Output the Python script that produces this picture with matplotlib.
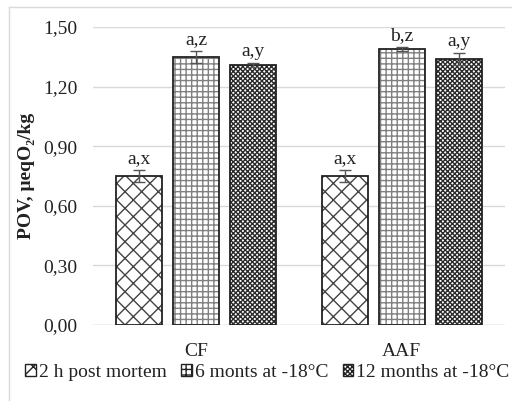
import numpy as np
import matplotlib
matplotlib.use("Agg")
import matplotlib.pyplot as plt
from matplotlib.patches import Patch
from matplotlib.lines import Line2D

plt.rcParams['font.family'] = ['Liberation Serif', 'DejaVu Serif']
plt.rcParams['hatch.linewidth'] = 1.0

# -----------------------------
# Data
# -----------------------------
groups = ["CF", "AAF"]
series = ["2 h post mortem", "6 monts at -18°C", "12 months at -18°C"]
values = [[0.75, 0.75], [1.35, 1.39], [1.31, 1.34]]
errors = [[0.03, 0.03], [0.03, 0.01], [0.01, 0.03]]
letters = [["a,x", "a,x"], ["a,z", "b,z"], ["a,y", "a,y"]]
yticks = [0.0, 0.3, 0.6, 0.9, 1.2, 1.5]

hatches = ["xx", "+++", "xxxxxxx"]
hatch_colors = ["#444444", "#808080", "#2a2a2a"]

# -----------------------------
# Figure
# -----------------------------
fig = plt.figure(figsize=(5.12, 4.01), dpi=100)
ax = fig.add_axes([0.1816, 0.1895, 0.8044, 0.7432])

x = np.arange(len(groups))
width = 0.223
step = 0.277

for i, name in enumerate(series):
    pos = x + (i - 1) * step
    bars = ax.bar(pos, values[i], width, color="white", edgecolor="#222222",
                  linewidth=1.3, zorder=3)
    for b in bars:
        b.set_hatch(hatches[i])
        b._hatch_color = matplotlib.colors.to_rgba(hatch_colors[i])
    ax.errorbar(pos, values[i], yerr=errors[i], fmt="none", ecolor="#555555",
                elinewidth=1.0, capsize=4, capthick=1.0, zorder=4)
    for p, v, e, t in zip(pos, values[i], errors[i], letters[i]):
        ax.text(p, v + e + 0.015, t, ha="center", va="bottom", fontsize=14,
                color="#222222", zorder=5)

ax.set_xlim(-0.5, 1.5)
ax.set_ylim(0, 1.5)
ax.set_yticks(yticks)
ax.set_yticklabels([f"{t:.2f}".replace(".", ",") for t in yticks])
ax.set_xticks(x)
ax.set_xticklabels(groups)
ax.tick_params(axis="both", length=0, labelsize=14, colors="#222222")
ax.tick_params(axis="x", pad=13)
ax.tick_params(axis="y", pad=11)
ax.grid(axis="y", color="#d9d9d9", linewidth=1.0, zorder=0)
for s in ax.spines.values():
    s.set_visible(False)
ax.axhline(0, color="#d9d9d9", linewidth=1.0, zorder=1)

ax.set_ylabel("POV, μeqO₂/kg", fontsize=14, fontweight="bold",
              color="#222222", labelpad=6)

handles = []
for i, name in enumerate(series):
    h = Patch(facecolor="white", edgecolor="#222222", hatch=hatches[i], label=name)
    handles.append(h)
leg = fig.legend(handles=handles, loc="center", bbox_to_anchor=(0.522, 0.072),
                 ncol=3, frameon=False, fontsize=14, handlelength=0.55,
                 handleheight=0.55, handletextpad=0.15, columnspacing=0.75,
                 borderpad=0)
for t in leg.get_texts():
    t.set_color("#222222")

# chart border
fig.add_artist(Line2D([9 / 512, 1.0], [1 - 7 / 401, 1 - 7 / 401],
                      transform=fig.transFigure, color="#d9d9d9", linewidth=1.0))
fig.add_artist(Line2D([9 / 512, 9 / 512], [0.0, 1 - 7 / 401],
                      transform=fig.transFigure, color="#d9d9d9", linewidth=1.0))

fig.savefig("out.png", dpi=100)
